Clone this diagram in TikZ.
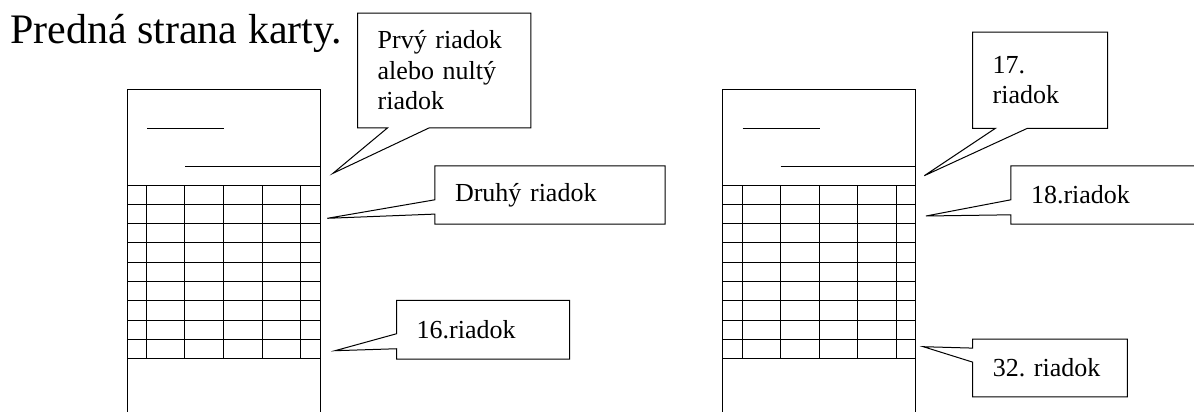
\documentclass[tikz,border=0pt]{standalone}
\usepackage{fontspec}
\setmainfont{Liberation Serif}
\usetikzlibrary{
  calc
}
\frenchspacing

\tikzset{
  bubble/.style={rectangle, inner xsep=20pt, inner ysep=0pt, align=left,
    font=\fontsize{26}{30.5}\selectfont},
  outline/.style={draw, line width=1pt, line join=miter},
  gridline/.style={line width=1pt}
}

\begin{document}
\begin{tikzpicture}[x=1pt,y=-1pt]
        \useasboundingbox (0,0) rectangle (1194,412);
        \node[anchor=base west, inner sep=0pt, font=\fontsize{42}{50}\selectfont] (title) at (10,43.5) {Predná strana karty.};
        % the two cards
        \foreach \cx in {127,722.7} {
          \draw[gridline] (\cx,415) -- (\cx,89) -- (\cx+193,89) -- (\cx+193,415);
          \draw[gridline] (\cx+20,128) -- (\cx+97,128);
          \draw[gridline] (\cx+58,166) -- (\cx+193,166);
          \foreach \r in {0,...,9}
            \draw[gridline] (\cx,185+19.3*\r) -- (\cx+193,185+19.3*\r);
          \foreach \c in {0,...,4}
            \draw[gridline] (\cx+19.3+38.6*\c,185) -- (\cx+19.3+38.6*\c,358.7);
        }
        % callouts, left card
        \node[bubble, minimum width=173pt, minimum height=114.4pt, text width=133pt] (prvy) at (444.2,70.5) {Prvý riadok\\alebo nultý\\riadok};
        \coordinate (tipprvy) at (333,173.3);
        \draw[outline] (prvy.south west) -- (prvy.north west) -- (prvy.north east) -- (prvy.south east)
          -- ([xshift=71.6pt]prvy.south west) -- (tipprvy) -- ([xshift=30pt]prvy.south west) -- cycle;

        \node[bubble, minimum width=230pt, minimum height=58pt, text width=190pt] (druhy) at (550,195) {Druhý riadok};
        \coordinate (tipdruhy) at (327.3,218.3);
        \draw[outline] (druhy.north west) -- (druhy.north east) -- (druhy.south east) -- (druhy.south west)
          -- ([yshift=-48.3pt]druhy.north west) -- (tipdruhy) -- ([yshift=-34pt]druhy.north west) -- cycle;

        \node[bubble, minimum width=172.6pt, minimum height=58.3pt, text width=132.6pt] (sestnasty) at (483,329.8) {16.riadok};
        \coordinate (tipsestnasty) at (335,350.7);
        \draw[outline] (sestnasty.north west) -- (sestnasty.north east) -- (sestnasty.south east) -- (sestnasty.south west)
          -- ([yshift=-48.3pt]sestnasty.north west) -- (tipsestnasty) -- ([yshift=-33.3pt]sestnasty.north west) -- cycle;

        % callouts, right card
        \node[bubble, minimum width=134.6pt, minimum height=95.7pt, text width=94.6pt] (sedemnasty) at (1040,80.2) {17.\\riadok};
        \coordinate (tipsedemnasty) at (924.3,175.7);
        \draw[outline] (sedemnasty.south west) -- (sedemnasty.north west) -- (sedemnasty.north east) -- (sedemnasty.south east)
          -- ([xshift=55pt]sedemnasty.south west) -- (tipsedemnasty) -- ([xshift=23pt]sedemnasty.south west) -- cycle;

        \node[bubble, minimum width=194pt, minimum height=58pt, text width=154pt] (osemnasty) at (1108,195) {18.riadok};
        \coordinate (tiposemnasty) at (926,216);
        \draw[outline] (osemnasty.north west) -- (osemnasty.north east) -- (osemnasty.south east) -- (osemnasty.south west)
          -- ([yshift=-49pt]osemnasty.north west) -- (tiposemnasty) -- ([yshift=-34pt]osemnasty.north west) -- cycle;

        \node[bubble, minimum width=154.3pt, minimum height=57.4pt, text width=114.3pt] (tridsiaty) at (1049.9,368) {32. riadok};
        \coordinate (tiptridsiaty) at (923.3,346.7);
        \draw[outline] (tridsiaty.north west) -- (tridsiaty.north east) -- (tridsiaty.south east) -- (tridsiaty.south west)
          -- ([yshift=-23pt]tridsiaty.north west) -- (tiptridsiaty) -- ([yshift=-9pt]tridsiaty.north west) -- cycle;
\end{tikzpicture}
\end{document}
